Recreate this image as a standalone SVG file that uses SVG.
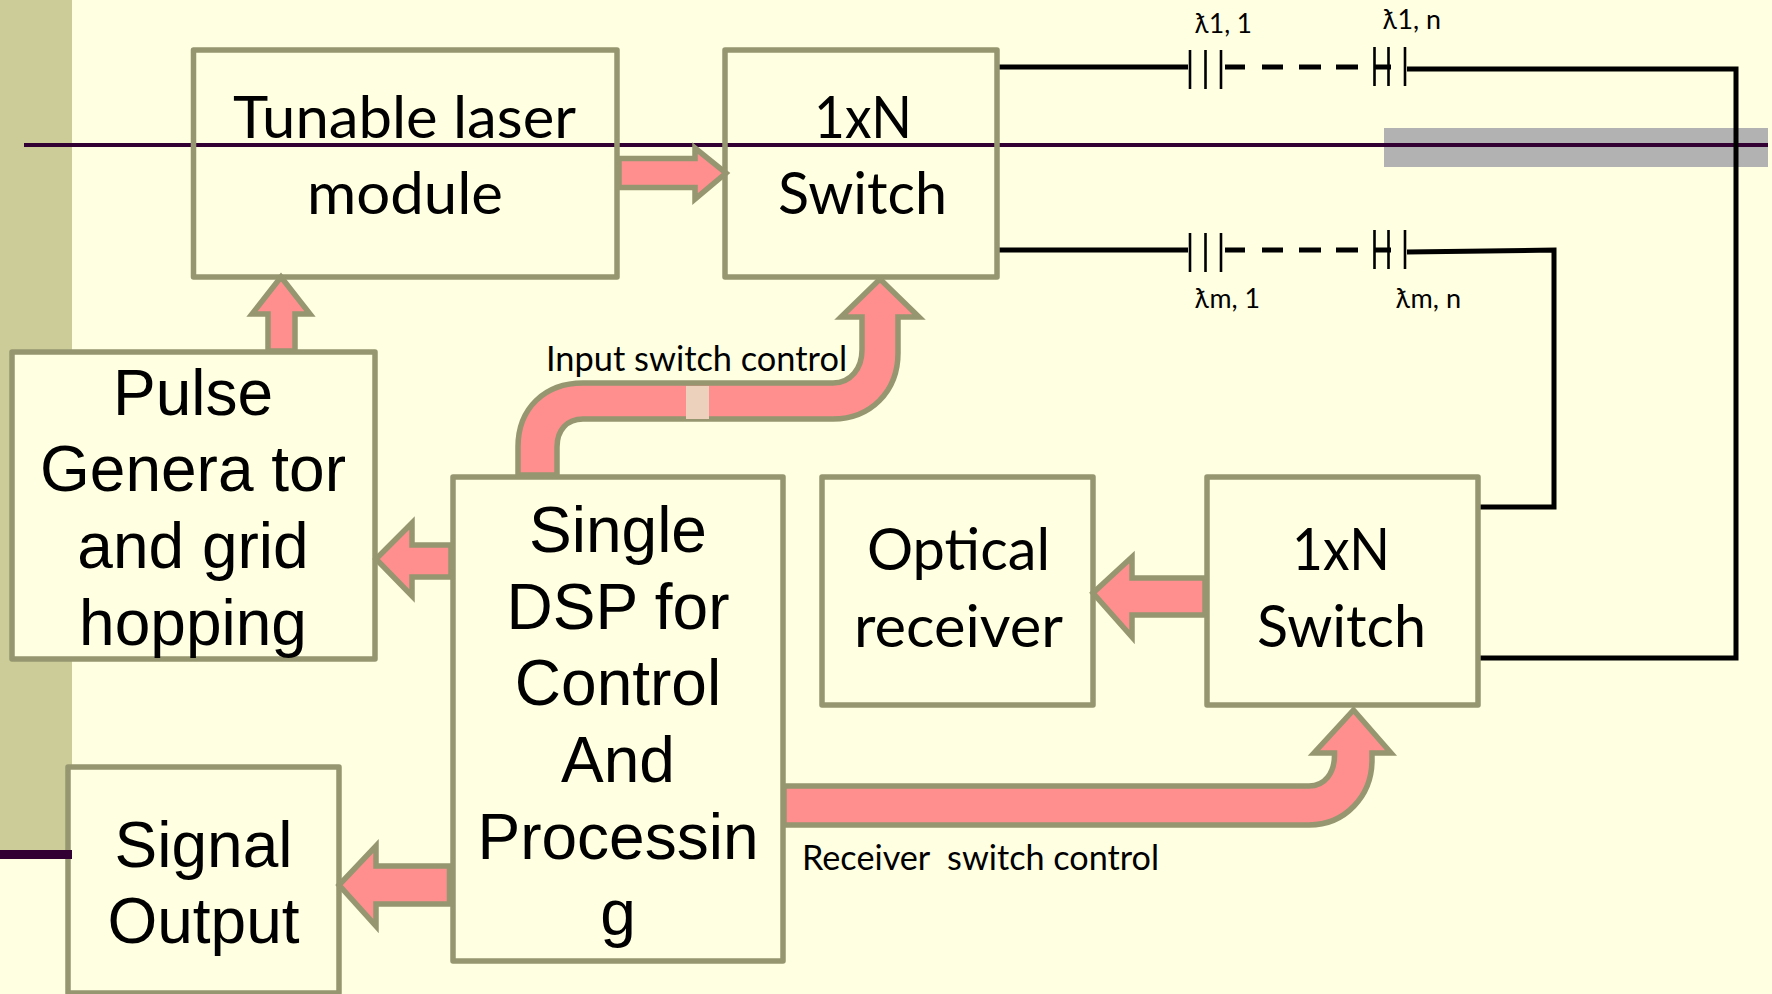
<svg xmlns="http://www.w3.org/2000/svg" width="1772" height="994" viewBox="0 0 1772 994">
<style>
.box{fill:#FFFFE1;stroke:#969670;stroke-width:5.500;stroke-linejoin:round}
.open{fill:none}
.arrow{fill:#FF8F8F;stroke:#969670;stroke-width:5.500;stroke-linejoin:miter}
.wire{fill:none;stroke:#000;stroke-width:5}
.thin{fill:none;stroke:#000;stroke-width:2.600}
.dash{fill:none;stroke:#000;stroke-width:5}
.a{font-family:"Liberation Sans",Arial,sans-serif;font-size:64px;fill:#000;text-anchor:middle}
.c{font-family:Lato,"DejaVu Sans",sans-serif;font-size:59px;fill:#000}
.s{font-family:Lato,"DejaVu Sans",sans-serif;font-size:34px;fill:#000}
.t{font-family:Lato,"DejaVu Sans",sans-serif;font-size:26px;fill:#000}
</style>
<defs>
<g id="filters">
<path class="wire" d="M0 0H189"/>
<path class="thin" d="M191 -17V22M206.500 -17V22M222 -17V22"/>
<path class="dash" d="M226 0H246M263 0H284M300 0H322M337 0H359M375 0H392"/>
<path class="thin" d="M375.500 -20V19M389.500 -20V19M406 -20V19"/>
</g>
</defs>
<rect width="1772" height="994" fill="#FFFFE1"/>
<rect x="0" y="0" width="72" height="850" fill="#CCCC99"/>
<rect x="1384" y="128" width="384" height="39" fill="#B2B2B2"/>
<path d="M24 145H1768" stroke="#330033" stroke-width="4" fill="none"/>

<g id="connectors">
<use href="#filters" x="999" y="67"/>
<use href="#filters" x="999" y="250"/>
<path class="wire" d="M1407 69H1736V658H1478"/>
<path class="wire" d="M1407 252L1554 250V507H1478"/>
</g>

<g id="tunable-laser"><rect class="box open" x="193.500" y="50" width="423.500" height="227"/>
<text class="c" x="233" y="138" textLength="343" lengthAdjust="spacingAndGlyphs">Tunable laser</text>
<text class="c" x="307" y="214" textLength="196" lengthAdjust="spacingAndGlyphs">module</text></g>
<g id="switch-in"><rect class="box open" x="725" y="50" width="272" height="227"/>
<text class="c" x="814" y="138" textLength="98" lengthAdjust="spacingAndGlyphs">1xN</text>
<text class="c" x="778" y="214" textLength="169" lengthAdjust="spacingAndGlyphs">Switch</text></g>
<g id="pulse-generator"><rect class="box" x="12" y="352" width="363" height="307"/>
<text class="a" x="193" y="415">Pulse</text><text class="a" x="193" y="491">Genera tor</text><text class="a" x="193" y="568">and grid</text><text class="a" x="193" y="645">hopping</text></g>
<g id="dsp"><rect class="box" x="453" y="477" width="330" height="484"/>
<text class="a" x="618" y="552">Single</text><text class="a" x="618" y="629">DSP for</text><text class="a" x="618" y="705">Control</text><text class="a" x="618" y="782">And</text><text class="a" x="618" y="859">Processin</text><text class="a" x="618" y="935">g</text></g>
<g id="optical-receiver"><rect class="box" x="822" y="477" width="271" height="228"/>
<text class="c" x="867" y="570" textLength="183" lengthAdjust="spacingAndGlyphs">Optical</text>
<text class="c" x="854" y="647" textLength="209" lengthAdjust="spacingAndGlyphs">receiver</text></g>
<g id="switch-out"><rect class="box" x="1207" y="477" width="271" height="228"/>
<text class="c" x="1292" y="570" textLength="98" lengthAdjust="spacingAndGlyphs">1xN</text>
<text class="c" x="1257" y="647" textLength="169" lengthAdjust="spacingAndGlyphs">Switch</text></g>
<g id="signal-output"><rect class="box" x="68" y="767" width="271" height="226"/>
<text class="a" x="203.500" y="867">Signal</text><text class="a" x="203.500" y="943">Output</text></g>
<rect x="0" y="850" width="72" height="9" fill="#330033"/>

<g id="arrows">
<path class="arrow" d="M619 158.500H695V148L726 173L695 199V187.500H619Z"/>
<path class="arrow" d="M268 351V314H252L281 277L310 314H295V351Z"/>
<path class="arrow" d="M451 545H412V523L376 559L412 596V577H451Z"/>
<path class="arrow" d="M449.500 866H376V846L339 885L376 926V904H449.500Z"/>
<path class="arrow" d="M1205 578H1132V557L1093 593L1132 637V615H1205Z"/>
<path class="arrow" d="M518 475V447C518 408 545 383 583 383H833C851 383 862 368 862 350V317H841L880 279L919 317H898V353C898 392 870 419 833 419H583C567 419 557 430 557 447V475Z"/>
<path class="arrow" d="M784 786H1309C1325 786 1334.500 773 1334.500 755V753H1314L1353.500 710L1391 753H1372V760C1372 796 1345 825 1309 825H784Z"/>
<rect x="686" y="386" width="23" height="33" fill="#ECD2BC"/>
</g>

<g id="labels">
<text class="s" x="546" y="371" textLength="301" lengthAdjust="spacingAndGlyphs">Input switch control</text>
<text class="s" x="802" y="870" textLength="357" lengthAdjust="spacingAndGlyphs" xml:space="preserve">Receiver  switch control</text>
<text class="t" x="1195" y="33" textLength="57" lengthAdjust="spacingAndGlyphs">ƛ1, 1</text>
<text class="t" x="1383" y="29" textLength="58" lengthAdjust="spacingAndGlyphs">ƛ1, n</text>
<text class="t" x="1195" y="308" textLength="65" lengthAdjust="spacingAndGlyphs">ƛm, 1</text>
<text class="t" x="1396" y="308" textLength="65" lengthAdjust="spacingAndGlyphs">ƛm, n</text>
</g>
</svg>
